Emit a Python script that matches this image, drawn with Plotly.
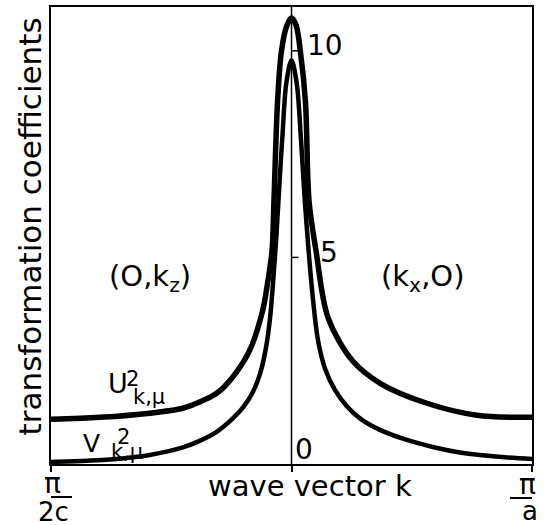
import plotly.graph_objects as go

# ---- data ----
u_k = [-1.0, -0.797, -0.589, -0.452, -0.382, -0.311, -0.245, -0.174, -0.120, -0.100,
       -0.081, -0.073, -0.058, -0.042, -0.020, 0.0, 0.020, 0.037, 0.058, 0.073,
       0.102, 0.152, 0.252, 0.372, 0.563, 0.771, 1.0]
u_vals = [1.08, 1.13, 1.23, 1.35, 1.50, 1.71, 2.10, 2.75, 3.71, 4.36,
          5.16, 6.36, 8.77, 9.98, 10.6, 10.80, 10.6, 9.98, 8.77, 6.36,
          5.16, 3.54, 2.51, 1.94, 1.47, 1.18, 1.13]

v_k = [-1.0, -0.85, -0.755, -0.589, -0.452, -0.382, -0.311, -0.245, -0.200, -0.160,
       -0.130, -0.105, -0.088, -0.074, -0.062, -0.050, -0.037, -0.022, 0.0,
       0.022, 0.040, 0.055, 0.072, 0.090, 0.110, 0.140, 0.180, 0.230, 0.290,
       0.370, 0.470, 0.596, 0.700, 0.850, 1.0]
v_vals = [0.05, 0.08, 0.11, 0.22, 0.40, 0.56, 0.78, 1.10, 1.38, 1.75,
          2.20, 2.85, 3.60, 4.60, 5.60, 6.80, 8.00, 9.20, 9.78,
          9.20, 7.80, 6.40, 5.10, 3.95, 3.00, 2.30, 1.80, 1.40, 1.08,
          0.82, 0.60, 0.40, 0.28, 0.18, 0.12]

ytick_vals = [0, 5, 10]
ytick_text = ["0", "5", "10"]
xtick_vals = [-1, 0, 1]

y_max = 11.06
FONT = "DejaVu Sans"

fig = go.Figure()
fig.add_trace(go.Scatter(x=u_k, y=u_vals, mode="lines",
                         line=dict(color="black", width=5.5, shape="spline", smoothing=0.9),
                         hoverinfo="skip"))
fig.add_trace(go.Scatter(x=v_k, y=v_vals, mode="lines",
                         line=dict(color="black", width=4.5, shape="spline", smoothing=0.9),
                         hoverinfo="skip"))

shapes = []
# central vertical axis
shapes.append(dict(type="line", xref="x", yref="paper", x0=0, x1=0, y0=0, y1=1,
                   line=dict(color="black", width=1.5)))
# ticks on central axis (pointing right)
for v in ytick_vals[1:]:
    shapes.append(dict(type="line", xref="x", xsizemode="pixel", xanchor=0, x0=0, x1=7,
                       yref="y", y0=v, y1=v, line=dict(color="black", width=1.5)))
# fraction bars for x tick labels (outside plot area -> paper y ref)
shapes.append(dict(type="line", xref="x", xsizemode="pixel", xanchor=xtick_vals[0], x0=-19, x1=21,
                   yref="paper", ysizemode="pixel", yanchor=0, y0=-33, y1=-33,
                   line=dict(color="black", width=2)))
shapes.append(dict(type="line", xref="x", xsizemode="pixel", xanchor=xtick_vals[2], x0=-22, x1=15,
                   yref="paper", ysizemode="pixel", yanchor=0, y0=-34, y1=-34,
                   line=dict(color="black", width=2)))

ann = []
# y tick labels
tick_shift = {"0": (12, 15), "5": (37, 5), "10": (33, 5)}
for v, t in zip(ytick_vals, ytick_text):
    dx, dy = tick_shift[t]
    ann.append(dict(x=0, y=v, xref="x", yref="y", text=t, showarrow=False,
                    xanchor="center", yanchor="middle", xshift=dx, yshift=dy,
                    font=dict(family=FONT, size=28, color="black")))
# x tick labels (fractions)
ann.append(dict(x=xtick_vals[0], y=0, xref="x", yref="y", text="π", showarrow=False,
                xanchor="center", yanchor="middle", xshift=1, yshift=-19,
                font=dict(family=FONT, size=28, color="black")))
ann.append(dict(x=xtick_vals[0], y=0, xref="x", yref="y", text="2c", showarrow=False,
                xanchor="center", yanchor="middle", xshift=2, yshift=-48,
                font=dict(family=FONT, size=26, color="black")))
ann.append(dict(x=xtick_vals[2], y=0, xref="x", yref="y", text="π", showarrow=False,
                xanchor="center", yanchor="middle", xshift=-5, yshift=-20,
                font=dict(family=FONT, size=28, color="black")))
ann.append(dict(x=xtick_vals[2], y=0, xref="x", yref="y", text="a", showarrow=False,
                xanchor="center", yanchor="middle", xshift=-2, yshift=-47,
                font=dict(family=FONT, size=26, color="black")))
# axis titles
ann.append(dict(x=0.077, y=0, xref="x", yref="y", text="wave vector k", showarrow=False,
                xanchor="center", yanchor="middle", yshift=-22,
                font=dict(family=FONT, size=29, color="black")))
ann.append(dict(x=0, y=5.75, xref="paper", yref="y", text="transformation coefficients",
                showarrow=False, textangle=-90, xanchor="center", yanchor="middle", xshift=-21,
                font=dict(family=FONT, size=31, color="black")))
# region labels
ann.append(dict(x=-0.59, y=4.5, xref="x", yref="y", text="(O,k<sub>z</sub>)", showarrow=False,
                xanchor="center", yanchor="middle",
                font=dict(family=FONT, size=29, color="black")))
ann.append(dict(x=0.546, y=4.5, xref="x", yref="y", text="(k<sub>x</sub>,O)", showarrow=False,
                xanchor="center", yanchor="middle",
                font=dict(family=FONT, size=29, color="black")))
# curve labels
ann.append(dict(x=-0.721, y=1.95, xref="x", yref="y", text="U", showarrow=False,
                xanchor="center", yanchor="middle", font=dict(family=FONT, size=27, color="black")))
ann.append(dict(x=-0.66, y=2.05, xref="x", yref="y", text="2", showarrow=False,
                xanchor="center", yanchor="middle", font=dict(family=FONT, size=21, color="black")))
ann.append(dict(x=-0.592, y=1.61, xref="x", yref="y", text="k,μ", showarrow=False,
                xanchor="center", yanchor="middle", font=dict(family=FONT, size=21, color="black")))
ann.append(dict(x=-0.83, y=0.5, xref="x", yref="y", text="V", showarrow=False,
                xanchor="center", yanchor="middle", font=dict(family=FONT, size=25, color="black")))
ann.append(dict(x=-0.698, y=0.66, xref="x", yref="y", text="2", showarrow=False,
                xanchor="center", yanchor="middle", font=dict(family=FONT, size=21, color="black")))
ann.append(dict(x=-0.684, y=0.29, xref="x", yref="y", text="k,μ", showarrow=False,
                xanchor="center", yanchor="middle", font=dict(family=FONT, size=21, color="black")))

fig.update_layout(
    width=555, height=525,
    margin=dict(l=51, r=23, t=5, b=61),
    plot_bgcolor="white", paper_bgcolor="white",
    showlegend=False,
    xaxis=dict(range=[-1, 1], showline=True, mirror=True, linecolor="black", linewidth=2,
               ticks="outside", tickvals=xtick_vals, ticklen=6, tickwidth=1.5, tickcolor="black",
               showticklabels=False, showgrid=False, zeroline=False, fixedrange=True),
    yaxis=dict(range=[0, y_max], showline=True, mirror=True, linecolor="black", linewidth=2,
               ticks="", showticklabels=False, showgrid=False, zeroline=False, fixedrange=True),
    shapes=shapes,
    annotations=ann,
)

fig.write_html("out.html")
